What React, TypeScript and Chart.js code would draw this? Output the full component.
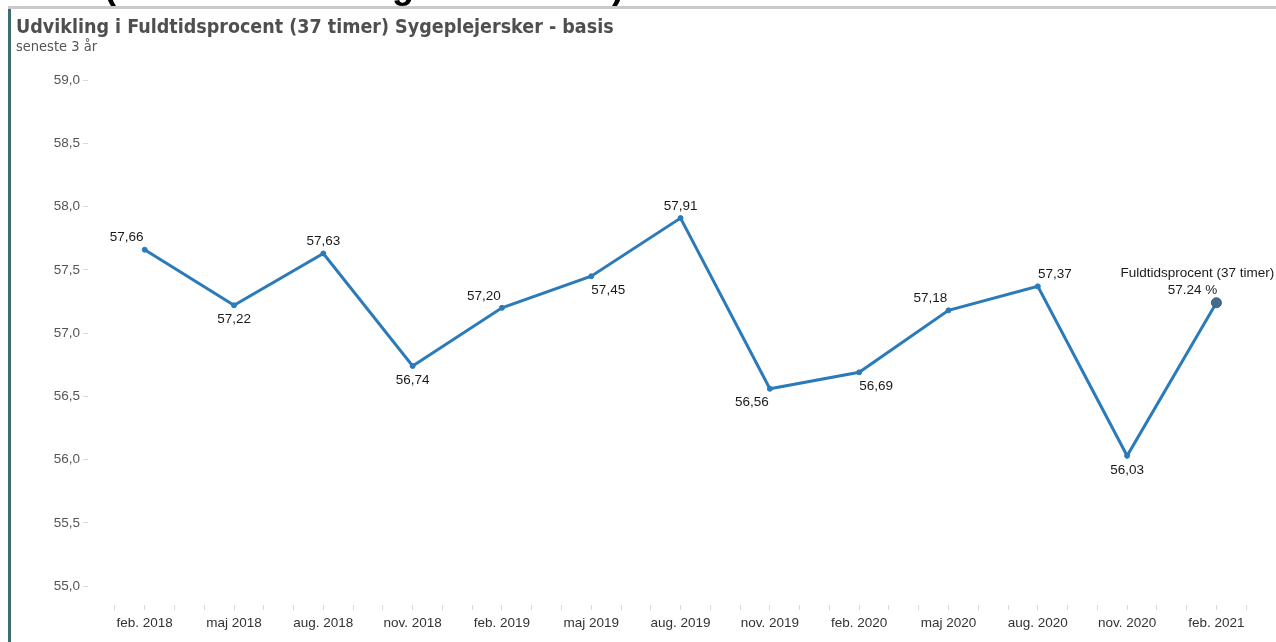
import React, { useEffect, useRef } from "react";
import { Chart, registerables } from "chart.js";

Chart.register(...registerables);

const categories = ["feb. 2018", "maj 2018", "aug. 2018", "nov. 2018", "feb. 2019", "maj 2019", "aug. 2019", "nov. 2019", "feb. 2020", "maj 2020", "aug. 2020", "nov. 2020", "feb. 2021"];
const values = [57.66, 57.22, 57.63, 56.74, 57.2, 57.45, 57.91, 56.56, 56.69, 57.18, 57.37, 56.03, 57.24];
const yTicks = [55.0, 55.5, 56.0, 56.5, 57.0, 57.5, 58.0, 58.5, 59.0];
const seriesName = "Fuldtidsprocent (37 timer)";
const titleText = "Udvikling i Fuldtidsprocent (37 timer) Sygeplejersker - basis";
const subtitleText = "seneste 3 år";
// label placement per point (style only)
const labelPlacement = ["above-left", "below", "above", "below", "above-left", "below-right", "above", "below-left", "below-right", "above-left", "above-right", "below", "tooltip"];

const MONTHS_PER_STEP = 3;

const fmt = (v: number, d: number) => v.toFixed(d).replace(".", ",");

const labelPlugin = {
  id: "pointLabels",
  afterDatasetsDraw(chart: any) {
    const meta = chart.getDatasetMeta(0);
    const ctx = chart.ctx;
    ctx.save();
    ctx.fillStyle = "#1a1a1a";
    ctx.textAlign = "center";
    ctx.textBaseline = "middle";
    ctx.font = "13.5px 'Liberation Sans', Arial, sans-serif";
    meta.data.forEach((pt: any, i: number) => {
      const p = labelPlacement[i];
      let dx = 0, dy = 0;
      if (p.startsWith("above")) dy = -12;
      if (p.startsWith("below")) dy = 14;
      if (p.endsWith("-left")) dx = -18;
      if (p.endsWith("-right")) dx = 17;
      if (p === "tooltip") {
        ctx.fillText(seriesName, pt.x - 19, pt.y - 30);
        ctx.fillText(values[i].toFixed(2) + " %", pt.x - 24, pt.y - 13);
        return;
      }
      ctx.fillText(fmt(values[i], 2), pt.x + dx, pt.y + dy);
    });
    ctx.restore();
  },
};

export default function App() {
  const ref = useRef<HTMLCanvasElement | null>(null);
  useEffect(() => {
    document.body.style.margin = "0";
    const monthTicks: number[] = [];
    for (let m = -1; m <= 37; m++) monthTicks.push(m);
    const chart = new Chart(ref.current!, {
      type: "line",
      data: {
        datasets: [
          {
            label: seriesName,
            data: values.map((v, i) => ({ x: i * MONTHS_PER_STEP, y: v })),
            borderColor: "#2b7bba",
            borderWidth: 3,
            pointRadius: (c: any) => (c.dataIndex === values.length - 1 ? 5 : 2.5),
            pointBackgroundColor: (c: any) => (c.dataIndex === values.length - 1 ? "#456b8c" : "#2b7bba"),
            pointBorderColor: (c: any) => (c.dataIndex === values.length - 1 ? "#3a5d7c" : "#2b7bba"),
            pointBorderWidth: 1,
            tension: 0,
          },
        ],
      },
      options: {
        animation: false,
        responsive: false,
        maintainAspectRatio: false,
        layout: { padding: { top: 60, left: 0, right: 0, bottom: 0 } },
        plugins: { legend: { display: false }, tooltip: { enabled: false } },
        scales: {
          x: {
            type: "linear",
            min: -1.905,
            max: 37.8,
            afterFit: (s: any) => { s.height = 37; },
            afterBuildTicks: (s: any) => { s.ticks = monthTicks.map((v) => ({ value: v })); },
            grid: { display: true, drawOnChartArea: false, drawTicks: true, tickLength: 5, color: "#d9d9d9" },
            border: { display: false },
            ticks: {
              autoSkip: false,
              maxRotation: 0,
              padding: 5,
              color: "#333333",
              font: { family: "'Liberation Sans', Arial, sans-serif", size: 13.5 },
              callback: (v: any) => {
                const n = Number(v);
                if (n >= 0 && n % MONTHS_PER_STEP === 0) return categories[n / MONTHS_PER_STEP] ?? "";
                return "";
              },
            },
          },
          y: {
            min: 54.85,
            max: 59.16,
            afterFit: (s: any) => { s.width = 88; },
            afterBuildTicks: (s: any) => { s.ticks = yTicks.map((v) => ({ value: v })); },
            grid: { display: true, drawOnChartArea: false, drawTicks: true, tickLength: 5, color: "#d9d9d9" },
            border: { display: false },
            ticks: {
              padding: 3,
              color: "#555555",
              font: { family: "'Liberation Sans', Arial, sans-serif", size: 13.5 },
              callback: (v: any) => fmt(Number(v), 1),
            },
          },
        },
      },
      plugins: [labelPlugin],
    } as any);
    return () => chart.destroy();
  }, []);

  const frag = (left: number, ch: string) => (
    <span style={{ position: "absolute", left, top: -32, fontFamily: "'Liberation Sans', Arial, sans-serif", fontWeight: 700, fontSize: 36, lineHeight: "36px", color: "#000" }}>{ch}</span>
  );

  return (
    <div style={{ position: "relative", width: 1276, height: 642, overflow: "hidden", background: "#fff" }}>
      <canvas ref={ref} width={1276} height={642} style={{ position: "absolute", left: 0, top: 0, width: 1276, height: 642 }} />
      <div style={{ position: "absolute", left: 0, top: 0, width: 1276, height: 6, overflow: "hidden" }}>
        {frag(104, "(")}
        {frag(392, "g")}
        {frag(612, ")")}
      </div>
      <div style={{ position: "absolute", left: 8, top: 6, width: 1268, height: 3, background: "#c9c9c9" }} />
      <div style={{ position: "absolute", left: 8, top: 9, width: 3, height: 633, background: "#3e6c74" }} />
      <div style={{ position: "absolute", left: 16, top: 15, fontFamily: "'DejaVu Sans Condensed', sans-serif", fontWeight: 700, fontSize: 19.5, lineHeight: "normal", color: "#4f4f4f", whiteSpace: "nowrap" }}>
        {titleText}
      </div>
      <div style={{ position: "absolute", left: 16, top: 38, fontFamily: "'DejaVu Sans Condensed', sans-serif", fontSize: 14.5, lineHeight: "normal", color: "#555555", whiteSpace: "nowrap" }}>
        {subtitleText}
      </div>
    </div>
  );
}
